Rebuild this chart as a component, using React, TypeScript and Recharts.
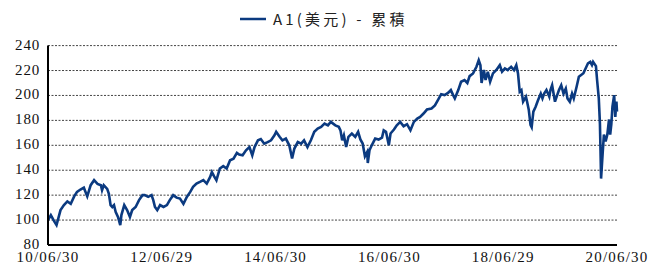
import React from "react";
import { LineChart, Line, XAxis, YAxis, CartesianGrid } from "recharts";

const seriesName = "A1(美元) - 累積";

// decimal year of each observation
const times = [
  2010.50,2010.55,2010.61,2010.65,2010.72,2010.78,2010.84,2010.90,2010.96,2011.01,
  2011.07,2011.13,2011.19,2011.25,2011.31,2011.37,2011.43,2011.45,2011.48,2011.54,
  2011.57,2011.60,2011.63,2011.66,2011.69,2011.73,2011.77,2011.79,2011.84,2011.89,
  2011.94,2011.98,2012.04,2012.10,2012.16,
  2012.20,2012.26,2012.32,2012.35,2012.38,2012.42,2012.47,2012.53,2012.59,2012.64,
  2012.70,2012.76,2012.82,2012.88,2012.94,2013.00,2013.05,2013.11,2013.17,2013.23,
  2013.29,2013.35,2013.38,2013.42,2013.46,2013.52,2013.58,2013.64,2013.70,2013.76,
  2013.82,
  2013.86,2013.92,2013.98,2014.04,2014.09,2014.13,2014.19,2014.24,2014.30,2014.36,
  2014.42,2014.48,2014.51,2014.57,2014.62,2014.68,2014.74,2014.79,2014.83,2014.89,
  2014.95,2015.00,2015.06,2015.12,2015.18,2015.24,2015.30,2015.36,2015.42,2015.47,
  2015.55,2015.61,2015.64,2015.67,2015.70,2015.74,2015.78,2015.84,2015.90,2015.95,
  2015.99,2016.03,2016.07,2016.11,2016.12,2016.15,2016.19,2016.25,2016.31,2016.37,
  2016.40,2016.44,2016.49,2016.52,2016.58,2016.63,2016.69,2016.75,2016.81,2016.87,
  2016.93,2016.99,2017.04,2017.10,2017.16,
  2017.24,2017.30,2017.35,2017.41,2017.47,2017.53,2017.58,2017.62,2017.65,2017.71,
  2017.76,2017.82,2017.87,2017.91,2017.97,2018.03,2018.07,2018.10,2018.12,2018.16,
  2018.19,2018.23,2018.27,2018.32,2018.38,2018.44,2018.48,2018.53,2018.58,2018.64,
  2018.69,2018.73,2018.76,2018.79,2018.82,2018.85,
  2018.90,2018.92,2018.95,2018.98,2019.00,2019.03,2019.07,2019.11,2019.16,2019.19,
  2019.22,2019.26,2019.31,2019.33,2019.36,2019.41,2019.44,2019.48,2019.52,2019.56,
  2019.60,2019.63,2019.67,2019.71,2019.74,2019.79,2019.83,2019.87,2019.91,2019.95,
  2019.99,2020.03,2020.06,2020.08,2020.13,2020.15,2020.18,2020.20,2020.21,2020.22,
  2020.25,2020.27,2020.30,2020.33,2020.36,2020.38,2020.40,2020.42,2020.45,2020.47,
  2020.49,2020.50,
];

const values = [
  100,104,99,96,108,112,115,113,119,122.6,
  124.5,126,119,128,132,129,128,124,128,125,
  121,112,110.5,112,106.5,102.5,96,104,112,108,
  102.5,108,110.5,116,120,
  120,118.6,120,116,110.5,108,112,110.5,112,116,
  120,118,117.3,113,118.6,122.6,126.6,129.3,130.6,132,
  129.3,134.6,138.6,135,132,141.4,143.3,141.4,148,149.2,
  153.9,
  152.6,152,156,158.6,152,158.6,164,165,161.3,162.6,
  164,168,170.8,166.8,164,165.4,160,149.4,157.4,162.6,
  161.3,164,158.6,164,170.8,173.5,174.8,177.5,176,178.8,
  176,174.8,172,164,168,158.6,166.8,169.5,166.8,170.8,
  164.7,161.4,151.2,154.7,145.8,156,160,165.4,164.6,166.2,
  172,170.8,160,169.5,172.7,176.1,178.8,175.3,176.9,172,
  178.8,181.5,182.8,185.5,188.7,
  189.5,192,196,201,200.3,202,204.3,200.3,197.6,204.3,
  211,212.4,210,215.5,217.7,223,228.3,224.3,210,220.4,
  212.4,219,211,217.7,220.4,224.3,219,221.7,220.4,223,
  220.4,224.3,217.7,203,204.3,195,
  199,195,188.3,176.3,174.5,187,191,196,201.5,197.6,
  201.5,204.3,199,204.3,208.2,195,199,204.3,208.2,201.5,
  205.5,197.6,195,201.5,197.6,207,215,216.4,217.8,221.8,
  225.8,227,224.4,227,223.5,212.4,197.6,177.4,156,133.3,
  155,168.6,163.2,168.6,180.7,168.6,176.7,191,200.3,182.8,
  195,187,
];

const xTickValues = [2010.5, 2012.5, 2014.5, 2016.5, 2018.5, 2020.5];
const xTickLabels = ["10/06/30", "12/06/29", "14/06/30", "16/06/30", "18/06/29", "20/06/30"];
const yTicks = [80, 100, 120, 140, 160, 180, 200, 220, 240];

const data = times.map((t, i) => ({ t, value: values[i] }));

const LINE_COLOR = "#0b3a80";
const FONT = "Liberation Serif, Times New Roman, serif";

const XTick = (props: any) => {
  const { x, y, payload } = props;
  const idx = xTickValues.indexOf(payload.value);
  return (
    <text
      x={x}
      y={y + 10}
      textAnchor="middle"
      fontFamily={FONT}
      fontSize={15}
      fill="#111"
      letterSpacing="1.2"
    >
      {idx >= 0 ? xTickLabels[idx] : ""}
    </text>
  );
};

const YTick = (props: any) => {
  const { x, y, payload } = props;
  return (
    <text
      x={x}
      y={y}
      dy={4}
      textAnchor="end"
      fontFamily={FONT}
      fontSize={15}
      fill="#111"
      letterSpacing="0.8"
    >
      {payload.value}
    </text>
  );
};

export default function App() {
  return (
    <div style={{ position: "absolute", left: 0, top: 0, width: 652, height: 264, background: "#fff" }}>
      <LineChart
        width={652}
        height={264}
        data={data}
        margin={{ top: 45.6, right: 35, bottom: 0, left: 0 }}
      >
        <CartesianGrid vertical={false} stroke="#444" strokeDasharray="2 1.5" />
        <XAxis
          dataKey="t"
          type="number"
          domain={[2010.5, 2020.5]}
          ticks={xTickValues}
          interval={0}
          tickLine={false}
          tickMargin={1}
          height={19}
          axisLine={{ stroke: "#000", strokeWidth: 2 }}
          tick={<XTick />}
        />
        <YAxis
          type="number"
          domain={[80, 240]}
          ticks={yTicks}
          interval={0}
          width={48}
          tickLine={false}
          axisLine={{ stroke: "#000", strokeWidth: 2 }}
          tick={<YTick />}
        />
        <Line
          dataKey="value"
          type="linear"
          stroke={LINE_COLOR}
          strokeWidth={2.6}
          dot={false}
          isAnimationActive={false}
        />
      </LineChart>
      <div
        style={{
          position: "absolute",
          left: 240,
          top: 9,
          display: "flex",
          alignItems: "center",
          fontFamily: "'Noto Sans CJK TC', sans-serif",
          fontSize: 15,
          color: "#222",
          letterSpacing: "3.2px",
          whiteSpace: "nowrap",
          lineHeight: "20px",
        }}
      >
        <svg width={26} height={4} style={{ marginRight: 7 }}>
          <line x1={0} y1={2} x2={26} y2={2} stroke={LINE_COLOR} strokeWidth={2.5} />
        </svg>
        <span>{seriesName}</span>
      </div>
    </div>
  );
}
